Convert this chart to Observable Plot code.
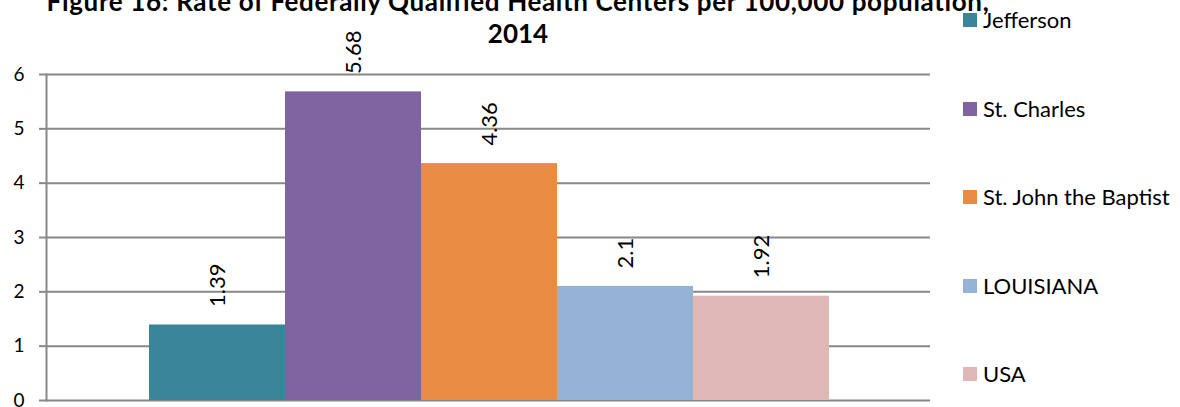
<!DOCTYPE html>
<html>
<head>
<meta charset="utf-8">
<script src="https://cdn.jsdelivr.net/npm/d3@7"></script>
<script src="https://cdn.jsdelivr.net/npm/@observablehq/plot@0.6"></script>
<style>
  html, body { margin: 0; padding: 0; background: #fff; }
  #wrap { position: relative; width: 1180px; height: 407px; overflow: hidden; font-family: Lato, "Open Sans", sans-serif; }
  #chart { position: absolute; left: 0; top: 0; }
  .title { position: absolute; width: 1036px; left: 0; text-align: center; font-weight: bold; font-size: 26px; line-height: 26px; color: #000; white-space: nowrap; }
  .leg { position: absolute; left: 963px; height: 24px; display: flex; align-items: center; font-size: 22px; line-height: 24px; color: #000; white-space: nowrap; }
  .sw { width: 14px; height: 14px; margin-right: 6px; flex: none; }
</style>
</head>
<body>
<div id="wrap"></div>
<script>
const titleLines = ["Figure 16: Rate of Federally Qualified Health Centers per 100,000 population,", "2014"];
const names = ["Jefferson", "St. Charles", "St. John the Baptist", "LOUISIANA", "USA"];
const values = [1.39, 5.68, 4.36, 2.1, 1.92];
const colors = ["#3A8599", "#8064A2", "#E98C41", "#95B3D7", "#DFB7B7"];
const yTicks = [0, 1, 2, 3, 4, 5, 6];

const data = names.map((name, i) => ({name, value: values[i]}));
const grid = "#888888";

const chart = Plot.plot({
  width: 1180,
  height: 407,
  marginLeft: 46,
  marginRight: 250,
  marginTop: 74,
  marginBottom: 7,
  style: {fontFamily: "Lato, 'Open Sans', sans-serif", background: "transparent", overflow: "visible"},
  x: {type: "band", domain: names, range: [148, 830], padding: 0, axis: null},
  y: {domain: [0, 6]},
  color: {domain: names, range: colors},
  marks: [
    Plot.gridY(yTicks, {stroke: grid, strokeOpacity: 1, strokeWidth: 2}),
    Plot.frame({anchor: "left", stroke: grid, strokeWidth: 2}),
    Plot.axisY(yTicks, {tickSize: 7, tickPadding: 15, fontSize: 19, stroke: grid, strokeWidth: 2, fill: "#000", label: null, tickFormat: d => String(d)}),
    Plot.barY(data, {x: "name", y: "value", fill: "name"}),
    Plot.text(data, {x: "name", y: "value", text: d => String(d.value), rotate: -90, textAnchor: "start", lineAnchor: "middle", dy: -18, fontSize: 22, fill: "#000"})
  ]
});
chart.id = "chart";
const wrap = document.getElementById("wrap");
wrap.appendChild(chart);

const tops = [-12, 20];
const spacing = ["0.65px", "0px"];
titleLines.forEach((t, i) => {
  const d = document.createElement("div");
  d.className = "title";
  d.style.top = tops[i] + "px";
  d.style.letterSpacing = spacing[i];
  d.textContent = t;
  wrap.appendChild(d);
});

const legCenters = [20, 108.5, 197, 285.5, 374];
names.forEach((n, i) => {
  const d = document.createElement("div");
  d.className = "leg";
  d.style.top = (legCenters[i] - 12) + "px";
  const s = document.createElement("span");
  s.className = "sw";
  s.style.background = colors[i];
  const t = document.createElement("span");
  t.textContent = n;
  d.appendChild(s);
  d.appendChild(t);
  wrap.appendChild(d);
});
</script>
</body>
</html>
